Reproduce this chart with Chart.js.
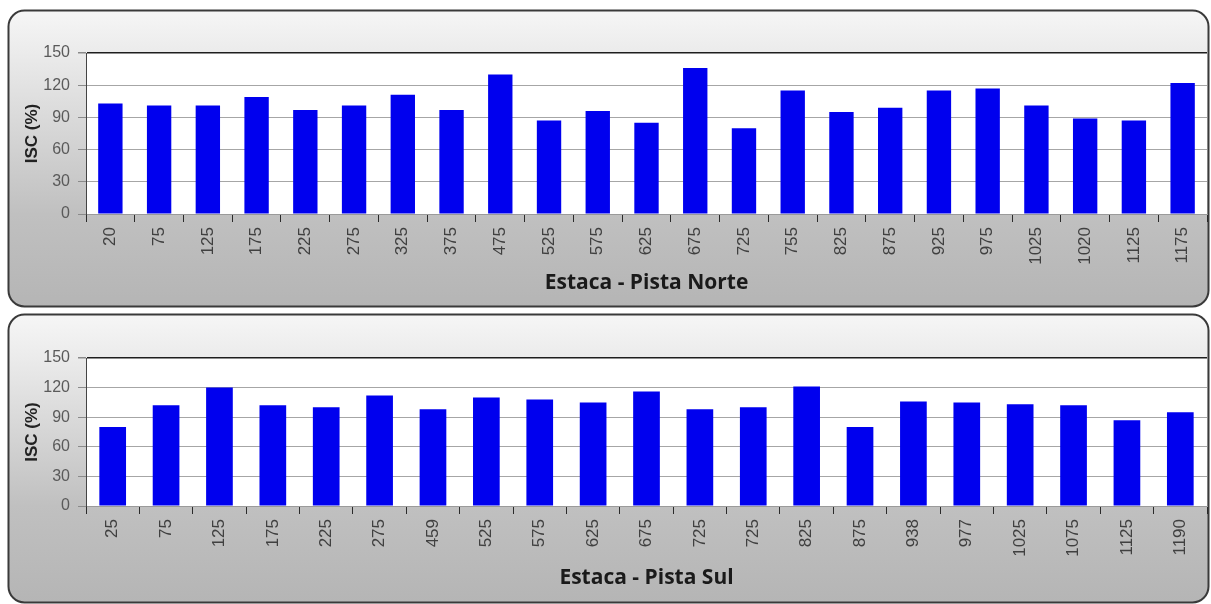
<!DOCTYPE html>
<html>
<head>
<meta charset="utf-8">
<title>ISC (%) por estaca</title>
<script src="https://cdn.jsdelivr.net/npm/chart.js@4.4.1/dist/chart.umd.min.js"></script>
<style>
  html, body { margin: 0; padding: 0; background: #ffffff; }
  #wrap { position: relative; width: 1211px; height: 604px; overflow: hidden; }
  canvas { position: absolute; left: 0; }
  #norte { top: 0; }
  #sul { top: 310px; }
</style>
</head>
<body>
<div id="wrap">
  <canvas id="norte" width="1211" height="310"></canvas>
  <canvas id="sul" width="1211" height="294"></canvas>
</div>
<script>
// Estacas e valores de ISC (%) - Pista Norte
const norteLabels = ['20', '75', '125', '175', '225', '275', '325', '375', '475', '525', '575', '625',
  '675', '725', '755', '825', '875', '925', '975', '1025', '1020', '1125', '1175'];
const norteISC = [103, 101, 101, 109, 97, 101, 111, 97, 130, 87, 96, 85,
  136, 80, 115, 95, 99, 115, 117, 101, 89, 87, 122];

// Estacas e valores de ISC (%) - Pista Sul
const sulLabels = ['25', '75', '125', '175', '225', '275', '459', '525', '575', '625', '675',
  '725', '725', '825', '875', '938', '977', '1025', '1075', '1125', '1190'];
const sulISC = [80, 102, 120, 102, 100, 112, 98, 110, 108, 105, 116,
  98, 100, 121, 80, 106, 105, 103, 102, 87, 95];

// Escala do eixo Y
const yMin = 0;
const yMax = 150;
const yStep = 30;

// Painel arredondado com degradê e área do gráfico branca
const panelPlugin = {
  id: 'panel',
  beforeDraw(chart, args, opts) {
    const { ctx, chartArea: a } = chart;
    const x = opts.x, y = opts.y, w = opts.w, h = opts.h, r = opts.r;
    ctx.save();
    const g = ctx.createLinearGradient(0, y, 0, y + h);
    g.addColorStop(0, '#f6f6f6');
    g.addColorStop((a.top - y) / h, '#ebebeb');
    g.addColorStop((a.bottom - y) / h, '#c0c0c0');
    g.addColorStop(1, '#b5b5b5');
    ctx.beginPath();
    ctx.roundRect(x, y, w, h, r);
    ctx.fillStyle = g;
    ctx.fill();
    ctx.lineWidth = 2;
    ctx.strokeStyle = '#3a3a3a';
    ctx.stroke();
    ctx.fillStyle = '#ffffff';
    ctx.fillRect(a.left, a.top, a.right - a.left, a.bottom - a.top);
    ctx.restore();
  }
};

function makeChart(id, labels, values, title, geo) {
  return new Chart(document.getElementById(id), {
    type: 'bar',
    data: {
      labels: labels,
      datasets: [{
        data: values,
        backgroundColor: '#0000ee',
        borderWidth: 0,
        barPercentage: 0.5,
        categoryPercentage: 1.0
      }]
    },
    options: {
      responsive: false,
      animation: false,
      events: [],
      layout: { padding: { top: geo.top, right: geo.right, left: 0, bottom: 0 } },
      plugins: {
        legend: { display: false },
        tooltip: { enabled: false },
        panel: geo.panel
      },
      scales: {
        x: {
          afterFit(scale) { scale.height = geo.xHeight; },
          grid: {
            offset: true,
            drawOnChartArea: false,
            drawTicks: true,
            tickLength: 8,
            tickColor: '#2a2a2a'
          },
          border: { display: true, color: '#9a9a9a' },
          ticks: {
            autoSkip: false,
            maxRotation: 90,
            minRotation: 90,
            padding: 5,
            color: '#404040',
            font: { family: 'Liberation Sans', size: 17 }
          },
          title: {
            display: true,
            text: title,
            color: '#1a1a1a',
            font: { family: 'Open Sans', size: 21, weight: 'bold' },
            padding: { top: 0, bottom: geo.titlePad }
          }
        },
        y: {
          min: yMin,
          max: yMax,
          afterFit(scale) { scale.width = geo.yWidth; },
          grid: {
            color: (c) => (c.tick && c.tick.value === yMax ? '#1e1e1e' : '#a6a6a6'),
            lineWidth: (c) => (c.tick && c.tick.value === yMax ? 1.5 : 1),
            tickLength: 8,
            tickColor: '#8a8a8a'
          },
          border: { display: true, color: '#444444' },
          ticks: {
            stepSize: yStep,
            padding: 8,
            color: '#5a5a5a',
            font: { family: 'Liberation Sans', size: 16 }
          },
          title: {
            display: true,
            text: 'ISC (%)',
            color: '#222222',
            font: { family: 'Liberation Sans', size: 17, weight: 'bold' },
            padding: { top: 22, bottom: 0 }
          }
        }
      }
    },
    plugins: [panelPlugin]
  });
}

makeChart('norte', norteLabels, norteISC, 'Estaca - Pista Norte', {
  top: 53, right: 4, xHeight: 96, yWidth: 86, titlePad: 14,
  panel: { x: 8.5, y: 10.5, w: 1200, h: 296, r: 16 }
});

makeChart('sul', sulLabels, sulISC, 'Estaca - Pista Sul', {
  top: 48, right: 4, xHeight: 98, yWidth: 86, titlePad: 13,
  panel: { x: 8.5, y: 4.5, w: 1200, h: 288, r: 16 }
});
</script>
</body>
</html>
